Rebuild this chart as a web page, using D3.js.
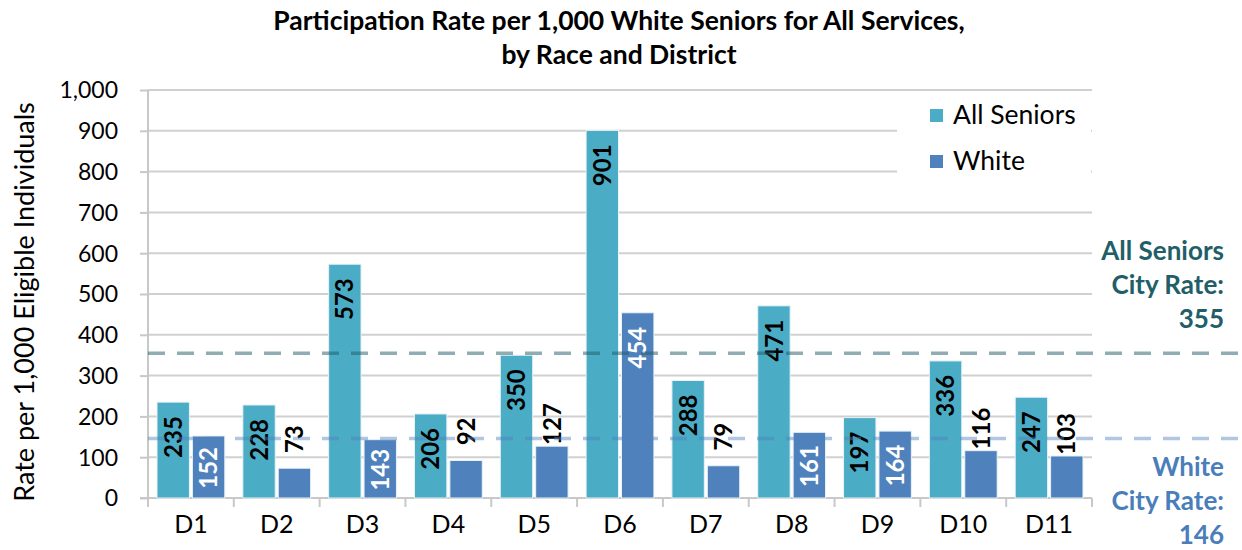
<!DOCTYPE html>
<html><head><meta charset="utf-8">
<script src="https://cdn.jsdelivr.net/npm/d3@7/dist/d3.min.js"></script>
<style>body{margin:0;background:#fff;} svg{display:block;font-family:Lato,"Open Sans",sans-serif;}</style>
</head><body>
<svg id="c" width="1242" height="550"></svg>
<script>
const categories = ["D1","D2","D3","D4","D5","D6","D7","D8","D9","D10","D11"];
const seriesNames = ["All Seniors","White"];
const allSeniors = [235,228,573,206,350,901,288,471,197,336,247];
const white = [152,73,143,92,127,454,79,161,164,116,103];
const yTicks = [0,100,200,300,400,500,600,700,800,900,1000];
const cityRates = [355,146];
const titleLines = ["Participation Rate per 1,000 White Seniors for All Services,","by Race and District"];
const yTitle = "Rate per 1,000 Eligible Individuals";

const colors = {"All Seniors":"#4bacc6","White":"#4f81bd"};
const svg = d3.select("#c");
const L=148, R=1092, T=90, B=498;
const y = d3.scaleLinear().domain([0,1000]).range([B,T]);
const x0 = d3.scaleBand().domain(categories).range([L,R]);
const bw = x0.bandwidth();
const x1 = d3.scaleBand().domain(seriesNames).range([bw*0.105,bw*0.895]).paddingInner(0.085);

// gridlines
svg.append("g").selectAll("line").data(yTicks.filter(d=>d>0)).join("line")
  .attr("x1",L).attr("x2",R).attr("y1",d=>y(d)).attr("y2",d=>y(d))
  .attr("stroke","#d0d0d0").attr("stroke-width",2);

// y axis
const ya = svg.append("g").attr("transform",`translate(${L},0)`)
  .call(d3.axisLeft(y).tickValues(yTicks).tickSize(8).tickPadding(22).tickFormat(d3.format(",")));
ya.select(".domain").attr("stroke","#c8c8c8").attr("stroke-width",2).attr("d",`M0,${B}V${T}`);
ya.selectAll(".tick line").attr("stroke","#c8c8c8").attr("stroke-width",2);
ya.selectAll(".tick text").attr("font-size",23).attr("fill","#000").attr("font-family","Lato,sans-serif").attr("dy","0.34em");

// x axis
const xa = svg.append("g").attr("transform",`translate(0,${B})`)
  .call(d3.axisBottom(x0).tickSize(0).tickPadding(16));
xa.select(".domain").attr("stroke","#c8c8c8").attr("stroke-width",2).attr("d",`M${L-8},0H${R}`);
xa.selectAll(".tick text").attr("font-size",25).attr("fill","#000").attr("font-family","Lato,sans-serif").attr("dy","0.75em");
xa.append("g").selectAll("line").data(categories.concat(["end"])).join("line")
  .attr("x1",(d,i)=>L+i*bw).attr("x2",(d,i)=>L+i*bw).attr("y1",0).attr("y2",9)
  .attr("stroke","#c8c8c8").attr("stroke-width",2);

// bars
const data = categories.map((c,i)=>({cat:c, vals:[{s:"All Seniors",v:allSeniors[i]},{s:"White",v:white[i]}]}));
const groups = svg.append("g").selectAll("g").data(data).join("g")
  .attr("transform",d=>`translate(${x0(d.cat)},0)`);
groups.selectAll("rect").data(d=>d.vals).join("rect")
  .attr("x",d=>x1(d.s)).attr("width",x1.bandwidth())
  .attr("y",d=>y(d.v)).attr("height",d=>B-y(d.v))
  .attr("fill",d=>colors[d.s]).attr("stroke","#e8f2f8").attr("stroke-width",1);

// city rate dashed lines
const lineCols = ["rgba(31,92,102,0.5)","rgba(79,129,189,0.45)"];
svg.append("g").selectAll("line").data(cityRates).join("line")
  .attr("x1",L).attr("x2",1242).attr("y1",d=>y(d)).attr("y2",d=>y(d))
  .attr("stroke",(d,i)=>lineCols[i]).attr("stroke-width",3.5).attr("stroke-dasharray","17,12");

// labels
const fs=24, tl=40;
groups.selectAll("text.lab").data(d=>d.vals).join("text").attr("class","lab")
  .each(function(d){
    const h = B - y(d.v);
    const cx = x1(d.s)+x1.bandwidth()/2;
    let ytop, fill;
    if (d.s==="All Seniors" || d.v>=140){
      const off = Math.min(14,(h-tl)/2);
      ytop = y(d.v)+off;
      fill = d.s==="White" ? "#fff" : "#000";
    } else {
      ytop = y(d.v)-3-tl;
      fill = "#000";
    }
    d3.select(this).attr("transform",`translate(${cx},${ytop}) rotate(-90)`)
      .attr("text-anchor","end").attr("dy","0.36em")
      .attr("font-size",fs).attr("font-weight","bold").attr("fill",fill).text(d.v);
  });

// title
svg.append("g").selectAll("text").data(titleLines).join("text")
  .attr("x",619).attr("y",(d,i)=>30+i*34).attr("text-anchor","middle")
  .attr("font-size",26.5).attr("font-weight","bold").attr("fill","#000").text(d=>d);

// y title
svg.append("text").attr("transform",`translate(34,${(T+B)/2+8}) rotate(-90)`)
  .attr("text-anchor","middle").attr("font-size",27).attr("fill","#000").text(yTitle);

// legend
const lg = svg.append("g");
lg.append("rect").attr("x",897).attr("y",95).attr("width",194).attr("height",90).attr("fill","#fff");
seriesNames.forEach((s,i)=>{
  lg.append("rect").attr("x",930).attr("y",109+i*46).attr("width",13).attr("height",13).attr("fill",colors[s]);
  lg.append("text").attr("x",953).attr("y",124+i*46).attr("font-size",26.5).attr("fill","#000").text(s);
});

// city rate labels
const rateLabels = [["All Seniors","City Rate:",String(cityRates[0])],["White","City Rate:",String(cityRates[1])]];
const rateCols = ["#215e68","#4a7ebb"];
const rateY = [260,476];
rateLabels.forEach((lines,j)=>{
  svg.append("g").selectAll("text").data(lines).join("text")
    .attr("x",1224).attr("y",(d,i)=>rateY[j]+i*34).attr("text-anchor","end")
    .attr("font-size",26).attr("font-weight","bold").attr("fill",rateCols[j]).text(d=>d);
});
</script>
</body></html>
